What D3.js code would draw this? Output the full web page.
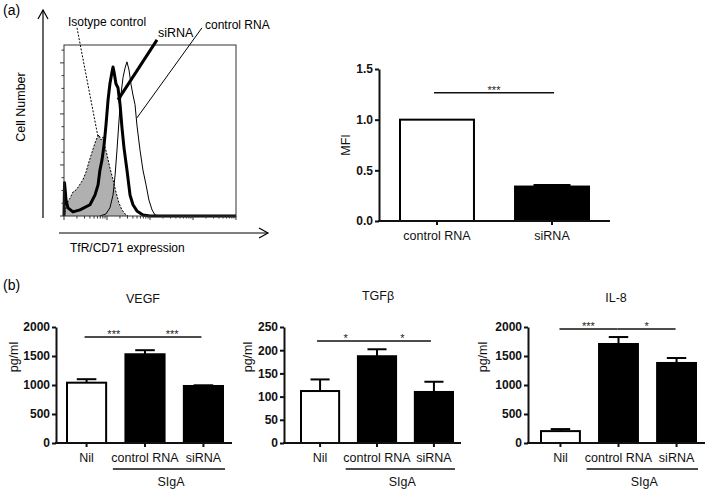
<!DOCTYPE html>
<html><head><meta charset="utf-8">
<script src="https://cdn.jsdelivr.net/npm/d3@7"></script>
<style>body{margin:0;background:#fff} svg{display:block;font-family:"Liberation Sans",Arial,sans-serif}</style>
</head><body><svg id="c" width="709" height="489"></svg>
<script>
// ---------- DATA ----------
// Histogram (channel 0-1000, count)
const isotypeHist = [[0,0],[6,8],[17,25],[35,35],[52,47],[70,51],[87,59],[110,71],[128,86],[145,106],[163,125],[180,143],[192,153],[203,159],[215,149],[227,155],[238,136],[250,120],[267,94],[285,71],[302,47],[320,25],[337,12],[355,4],[372,0]];
const sirnaHist = [[0,0],[3,65],[12,31],[23,16],[52,8],[93,12],[151,22],[180,41],[198,61],[209,90],[221,110],[233,139],[244,178],[256,227],[267,259],[279,282],[285,292],[291,282],[302,259],[314,251],[326,218],[337,173],[349,133],[366,90],[384,41],[401,22],[424,10],[459,2],[500,0],[1000,0]];
const controlHist = [[209,0],[244,4],[267,16],[285,41],[297,80],[308,129],[320,188],[331,237],[343,271],[355,290],[366,302],[378,286],[390,257],[401,237],[413,218],[424,178],[442,129],[459,90],[477,61],[494,31],[512,12],[529,2],[558,0]];
const histCountTicks = d3.range(0, 326, 25);
const histLogTicks = [1,2,3,4,5,6,7,8,9,10,20,30,40,50,60,70,80,90,100,200,300,400,500,600,700,800,900,1000,2000,3000,4000,5000,6000,7000,8000,9000,10000];

// MFI bar chart
const mfiCategories = ["control RNA", "siRNA"];
const mfiValues = [1.0, 0.34];
const mfiErrors = [0, 0.015];
const mfiTicks = [0, 0.5, 1.0, 1.5];
const mfiSig = [{from:0, to:1, y:1.265, label:"***"}];

// Panel (b)
const bCategories = ["Nil", "control RNA", "siRNA"];
const bFills = ["#fff", "#000", "#000"];
const vegfValues = [1040, 1530, 983];
const vegfErrors = [60, 70, 12];
const tgfValues = [112, 187, 110];
const tgfErrors = [25, 15, 22];
const il8Values = [205, 1707, 1380];
const il8Errors = [35, 120, 85];
const vegfTicks = [0, 500, 1000, 1500, 2000];
const tgfTicks = [0, 50, 100, 150, 200, 250];
const il8Ticks = [0, 500, 1000, 1500, 2000];
const vegfSig = [{from:0,to:1,y:1828,label:"***"},{from:1,to:2,y:1828,label:"***"}];
const tgfSig = [{from:0,to:1,y:220,label:"*"},{from:1,to:2,y:220,label:"*"}];
const il8Sig = [{from:0,to:1,y:1966,label:"***"},{from:1,to:2,y:1966,label:"*"}];

// ---------- DRAW ----------
const svg = d3.select("#c");

// panel labels
svg.append("text").attr("x",3).attr("y",15).attr("font-size",14).text("(a)");
svg.append("text").attr("x",3).attr("y",290).attr("font-size",14).text("(b)");

// ---- Histogram ----
const hx = d3.scaleLinear().domain([0,1000]).range([64,236]);
const hy = d3.scaleLinear().domain([0,335]).range([216,45]);
const hlog = d3.scaleLog().domain([1,10000]).range([64,236]);
const hg = svg.append("g");

hg.append("path").datum(isotypeHist)
  .attr("d", d3.area().x(d=>hx(d[0])).y0(hy(0)).y1(d=>hy(d[1])))
  .attr("fill","#b0b0b0");
hg.append("path").datum(isotypeHist)
  .attr("d", d3.line().x(d=>hx(d[0])).y(d=>hy(d[1])))
  .attr("fill","none").attr("stroke","#000").attr("stroke-width",1).attr("stroke-dasharray","2,1.5");
hg.append("path").datum(controlHist)
  .attr("d", d3.line().x(d=>hx(d[0])).y(d=>hy(d[1])))
  .attr("fill","none").attr("stroke","#000").attr("stroke-width",1);
hg.append("path").datum(sirnaHist)
  .attr("d", d3.line().x(d=>hx(d[0])).y(d=>hy(d[1])))
  .attr("fill","none").attr("stroke","#000").attr("stroke-width",3).attr("stroke-linejoin","round");

// box
hg.append("rect").attr("x",hx(0)).attr("y",hy(335)).attr("width",hx(1000)-hx(0)).attr("height",hy(0)-hy(335))
  .attr("fill","none").attr("stroke","#333").attr("stroke-width",1);
// left ticks
hg.selectAll(".lt").data(histCountTicks).enter().append("line")
  .attr("x1",d=> d%100===0 ? hx(0)-4 : hx(0)-2.5).attr("x2",hx(0))
  .attr("y1",d=>hy(d)).attr("y2",d=>hy(d)).attr("stroke","#333").attr("stroke-width",1);
// bottom ticks
hg.selectAll(".bt").data(histLogTicks).enter().append("line")
  .attr("x1",d=>hlog(d)).attr("x2",d=>hlog(d))
  .attr("y1",hy(0)).attr("y2",d=> Math.abs(Math.log10(d)%1)<1e-9 ? hy(0)+4 : hy(0)+2.5)
  .attr("stroke","#333").attr("stroke-width",1);

// arrows
const ax = svg.append("g").attr("stroke","#000").attr("stroke-width",1.2).attr("fill","none");
ax.append("line").attr("x1",43).attr("y1",218).attr("x2",43).attr("y2",10);
ax.append("path").attr("d","M38,19 L43,10 L48,19");
ax.append("line").attr("x1",59).attr("y1",233).attr("x2",268).attr("y2",233);
ax.append("path").attr("d","M259,228 L268,233 L259,238");

// leader lines (data units)
hg.append("line").attr("x1",hx(75.6)).attr("y1",hy(368.6)).attr("x2",hx(197.7)).attr("y2",hy(154.9))
  .attr("stroke","#000").attr("stroke-width",1).attr("stroke-dasharray","2,1.5");
hg.append("line").attr("x1",hx(540.7)).attr("y1",hy(345)).attr("x2",hx(314)).attr("y2",hy(227.5))
  .attr("stroke","#000").attr("stroke-width",3);
hg.append("line").attr("x1",hx(802)).attr("y1",hy(368.6)).attr("x2",hx(424)).attr("y2",hy(192.2))
  .attr("stroke","#000").attr("stroke-width",1);

svg.append("text").attr("x",68).attr("y",26).attr("font-size",12).text("Isotype control");
svg.append("text").attr("x",158).attr("y",37).attr("font-size",12.5).text("siRNA");
svg.append("text").attr("x",205).attr("y",29).attr("font-size",12).text("control RNA");
svg.append("text").attr("transform","translate(25,107) rotate(-90)").attr("text-anchor","middle").attr("font-size",12.5).text("Cell Number");
svg.append("text").attr("x",70).attr("y",252).attr("font-size",12).text("TfR/CD71 expression");

// ---- generic bar chart ----
function barChart(o) {
  const g = svg.append("g");
  const y = d3.scaleLinear().domain([0, o.ticks[o.ticks.length-1]]).range([o.y0, o.y1]);
  const x = d3.scaleBand().domain(o.cats).range([o.bx0, o.bx1]).paddingInner(o.pi).paddingOuter(0);
  const bw = x.bandwidth();
  // bars
  g.selectAll(".bar").data(o.values).enter().append("rect")
    .attr("x",(d,i)=>x(o.cats[i])).attr("y",d=>y(d))
    .attr("width",bw).attr("height",d=>y(0)-y(d))
    .attr("fill",(d,i)=>o.fills[i]).attr("stroke","#000").attr("stroke-width",2);
  // error bars
  o.values.forEach((v,i)=>{
    if (!o.errors[i]) return;
    const cx = x(o.cats[i]) + bw/2;
    g.append("line").attr("x1",cx).attr("x2",cx).attr("y1",y(v)).attr("y2",y(v+o.errors[i]))
      .attr("stroke","#000").attr("stroke-width",2);
    g.append("line").attr("x1",cx-bw/4).attr("x2",cx+bw/4).attr("y1",y(v+o.errors[i])).attr("y2",y(v+o.errors[i]))
      .attr("stroke","#000").attr("stroke-width",2);
  });
  // y axis
  const ya = g.append("g").attr("transform",`translate(${o.ax},0)`)
    .call(d3.axisLeft(y).tickValues(o.ticks).tickFormat(o.fmt).tickSize(4).tickSizeOuter(0).tickPadding(2));
  ya.select(".domain").attr("stroke-width",2).attr("stroke","#111");
  ya.selectAll(".tick line").attr("stroke-width",2).attr("stroke","#111");
  ya.selectAll(".tick text").attr("font-size",12).attr("font-weight","bold").attr("fill","#111")
    .attr("font-family","Liberation Sans, Arial, sans-serif");
  // x axis
  g.append("line").attr("x1",o.ax-1).attr("x2",o.axEnd).attr("y1",y(0)).attr("y2",y(0))
    .attr("stroke","#111").attr("stroke-width",2);
  const xa = g.append("g").attr("transform",`translate(0,${y(0)})`)
    .call(d3.axisBottom(x).tickSize(4).tickSizeOuter(0).tickPadding(o.tickPad));
  xa.select(".domain").remove();
  xa.selectAll(".tick line").attr("stroke-width",2).attr("stroke","#111");
  xa.selectAll(".tick text").attr("font-size",12.5).attr("fill","#111")
    .attr("font-family","Liberation Sans, Arial, sans-serif");
  // significance
  o.sig.forEach(s=>{
    const x1 = x(o.cats[s.from]) + bw/2 + o.sigGapL;
    const x2 = x(o.cats[s.to]) + bw/2 - o.sigGapR;
    g.append("line").attr("x1",x1).attr("x2",x2).attr("y1",y(s.y)).attr("y2",y(s.y))
      .attr("stroke","#111").attr("stroke-width",1.5);
    g.append("text").attr("x",(x1+x2)/2).attr("y",y(s.y)+1).attr("text-anchor","middle")
      .attr("font-size",11).attr("fill","#222").text(s.label);
  });
  // y label
  g.append("text").attr("transform",`translate(${o.labX},${o.labY}) rotate(-90)`).attr("text-anchor","middle")
    .attr("font-size",12.5).attr("fill","#111").text(o.ylabel);
  // title
  if (o.title) g.append("text").attr("x",o.titleX).attr("y",o.titleY).attr("text-anchor","middle")
    .attr("font-size",12.5).attr("fill","#111").text(o.title);
  // SIgA bracket
  if (o.bracket) {
    const c1 = x(o.cats[1]) + bw/2, c2 = x(o.cats[2]) + bw/2, st = x.step();
    g.append("line").attr("x1",c1-0.55*st).attr("x2",c2+0.37*st).attr("y1",o.bracketY).attr("y2",o.bracketY)
      .attr("stroke","#111").attr("stroke-width",1.3);
    g.append("text").attr("x",(c1-0.55*st + c2+0.37*st)/2+2).attr("y",o.bracketY+17).attr("text-anchor","middle")
      .attr("font-size",12.5).attr("fill","#111").text("SIgA");
  }
}

// (a) MFI
barChart({cats:mfiCategories, values:mfiValues, errors:mfiErrors, fills:["#fff","#000"], ticks:mfiTicks,
  fmt:d3.format(".1f"), y0:221, y1:69, bx0:400, bx1:589, pi:0.357, ax:379, axEnd:610, tickPad:6,
  sig:mfiSig.map(s=>({...s})), sigGapL:-3, sigGapR:-2, ylabel:"MFI", labX:350, labY:145});

// (b)
const bCommon = {cats:bCategories, fills:bFills, fmt:d3.format("d"), y0:443, y1:327, pi:0.33, tickPad:6, bracket:true, bracketY:469};
barChart({...bCommon, values:vegfValues, errors:vegfErrors, ticks:vegfTicks, bx0:67, bx1:223, ax:56, axEnd:232,
  sig:vegfSig, sigGapL:-2, sigGapR:2, ylabel:"pg/ml", labX:18, labY:357, title:"VEGF", titleX:143, titleY:303});
barChart({...bCommon, values:tgfValues, errors:tgfErrors, ticks:tgfTicks, bx0:301, bx1:453, ax:284, axEnd:461,
  sig:tgfSig, sigGapL:-3, sigGapR:3, ylabel:"pg/ml", labX:252, labY:357, title:"TGFβ", titleX:378, titleY:300});
barChart({...bCommon, values:il8Values, errors:il8Errors, ticks:il8Ticks, bx0:541, bx1:696, ax:528, axEnd:705,
  sig:il8Sig, sigGapL:-1, sigGapR:1, ylabel:"pg/ml", labX:487, labY:357, title:"IL-8", titleX:616, titleY:302});
</script></body></html>
